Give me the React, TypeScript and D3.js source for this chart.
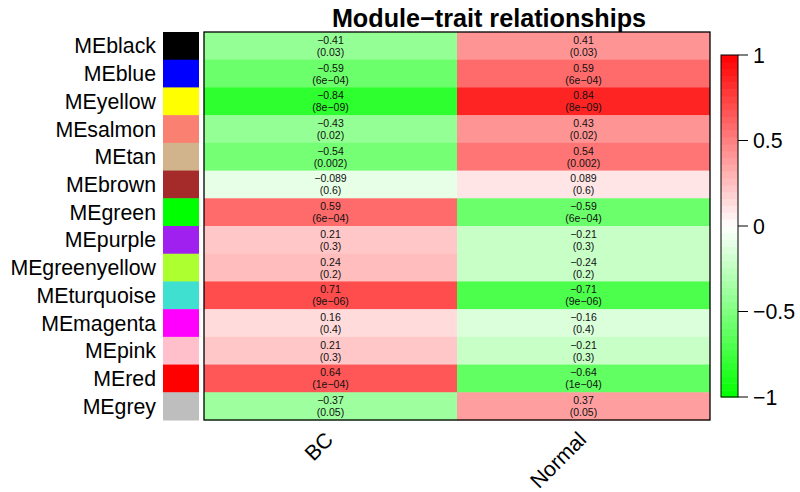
import React from "react";
import * as d3 from "d3";

const modules = ["MEblack","MEblue","MEyellow","MEsalmon","MEtan","MEbrown","MEgreen","MEpurple","MEgreenyellow","MEturquoise","MEmagenta","MEpink","MEred","MEgrey"];
const moduleColors = ["#000000","#0000FF","#FFFF00","#FA8072","#D2B48C","#A52A2A","#00FF00","#A020F0","#ADFF2F","#40E0D0","#FF00FF","#FFC0CB","#FF0000","#BEBEBE"];
const traits = ["BC","Normal"];
const corBC = [-0.41,-0.59,-0.84,-0.43,-0.54,-0.089,0.59,0.21,0.24,0.71,0.16,0.21,0.64,-0.37];
const corNormal = [0.41,0.59,0.84,0.43,0.54,0.089,-0.59,-0.21,-0.24,-0.71,-0.16,-0.21,-0.64,0.37];
const pvals = ["0.03","6e-04","8e-09","0.02","0.002","0.6","6e-04","0.3","0.2","9e-06","0.4","0.3","1e-04","0.05"];
const legendTicks = [1,0.5,0,-0.5,-1];

const W = 800, H = 492;
const left = 204, right = 710, top = 32, bottom = 420;
const font = "'Liberation Sans', Arial, Helvetica, sans-serif";
const fs = 21.3;

const fmt = (s: string) => s.replace(/-/g, "\u2212");
const fmtNum = (v: number) => fmt(String(v));

export default function App() {
  const x = d3.scaleBand<string>().domain(traits).range([left, right]);
  const y = d3.scaleBand<string>().domain(modules).range([top, bottom]);
  const nBins = 50;
  const cont = (v: number) =>
    v >= 0 ? d3.interpolateRgb("#FFFFFF", "#FF0000")(v) : d3.interpolateRgb("#FFFFFF", "#00FF00")(-v);
  const color = (v: number) => {
    let i = Math.floor(((v + 1) / 2) * nBins);
    if (i >= nBins) i = nBins - 1;
    if (i < 0) i = 0;
    const mid = -1 + (2 * (i + 0.5)) / nBins;
    return cont(mid);
  };
  const cors = [corBC, corNormal];
  const legTop = 55, legBot = 397, legL = 721, legR = 738;
  const ly = d3.scaleLinear().domain([-1, 1]).range([legBot, legTop]);
  const bins = d3.range(nBins);

  return (
    <svg width={W} height={H} style={{ position: "absolute", left: 0, top: 0 }} fontFamily={font}>
      <rect width={W} height={H} fill="#fff" />
      <text x={489} y={27} textAnchor="middle" fontWeight="bold" fontSize={25.2}>
        {fmt("Module-trait relationships")}
      </text>
      {traits.map((t, ti) =>
        modules.map((m, mi) => (
          <rect key={t + m} x={x(t)!} y={y(m)!} width={x.bandwidth()} height={y.bandwidth() + 0.5}
            fill={color(cors[ti][mi])} />
        ))
      )}
      {traits.map((t, ti) =>
        modules.map((m, mi) => {
          const cx = x(t)! + x.bandwidth() / 2;
          const cy = y(m)! + y.bandwidth() / 2;
          return (
            <g key={"t" + t + m} fontSize={10.5} fill="#111" textAnchor="middle">
              <text x={cx} y={cy - 2}>{fmtNum(cors[ti][mi])}</text>
              <text x={cx} y={cy + 10}>{"(" + fmt(pvals[mi]) + ")"}</text>
            </g>
          );
        })
      )}
      <rect x={left} y={top} width={right - left} height={bottom - top} fill="none" stroke="#000" strokeWidth={1.3} />
      {modules.map((m, mi) => (
        <g key={"s" + m}>
          <rect x={163} y={y(m)!} width={36} height={y.bandwidth() + 0.5} fill={moduleColors[mi]} />
          <text x={156} y={y(m)! + y.bandwidth() / 2 + 7.6} textAnchor="end" fontSize={fs}>{m}</text>
        </g>
      ))}
      {traits.map((t) => {
        const cx = x(t)! + x.bandwidth() / 2 + 4;
        const cy = 441;
        return (
          <text key={"x" + t} transform={`translate(${cx},${cy}) rotate(-45)`} textAnchor="end" fontSize={fs}>
            {t}
          </text>
        );
      })}
      {bins.map((i) => {
        const v0 = -1 + (2 * i) / nBins, v1 = -1 + (2 * (i + 1)) / nBins;
        return (
          <rect key={"b" + i} x={legL} y={ly(v1)} width={legR - legL} height={ly(v0) - ly(v1) + 0.5}
            fill={cont((v0 + v1) / 2)} />
        );
      })}
      <rect x={legL} y={legTop} width={legR - legL} height={legBot - legTop} fill="none" stroke="#000" strokeWidth={1} />
      {legendTicks.map((t) => (
        <g key={"l" + t}>
          <line x1={legR} x2={legR + 10} y1={ly(t)} y2={ly(t)} stroke="#000" />
          <text x={753} y={ly(t) + 7.6} fontSize={fs}>{fmtNum(t)}</text>
        </g>
      ))}
    </svg>
  );
}
